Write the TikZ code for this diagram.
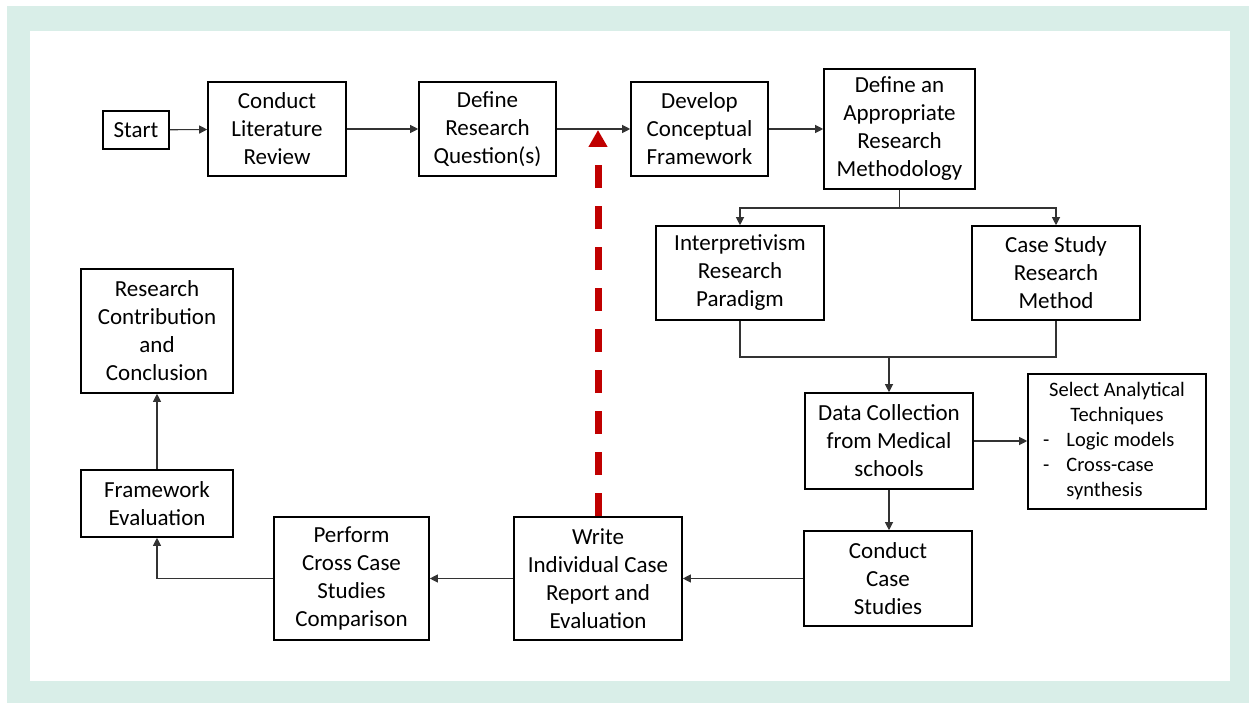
\documentclass[tikz,border=0pt]{standalone}
\usepackage{fontspec}
\setmainfont{Carlito}
\usetikzlibrary{arrows.meta}
\definecolor{mintframe}{HTML}{D9EEE8}
\definecolor{flowred}{HTML}{C00000}
\begin{document}
\begin{tikzpicture}[x=1pt,y=-1pt,
  stepbox/.style={draw=black,line width=1.6pt,align=center,inner sep=0pt,
    font=\fontsize{23}{28}\selectfont},
  notebox/.style={draw=black,line width=1.6pt,inner sep=0pt,
    font=\fontsize{20.5}{25}\selectfont},
  link/.style={draw=black!80,line width=1.1pt,-{Triangle[length=8pt,width=8pt]}},
  plain/.style={draw=black!80,line width=1.1pt},
  feedback/.style={draw=flowred,line width=7pt,dash pattern=on 23pt off 18pt,
    -{Triangle[length=17pt,width=18pt]}}]
% frame
\useasboundingbox (0,0) rectangle (1249,703);
\fill[white] (0,0) rectangle (1249,703);
\fill[mintframe] (7,6) rectangle (1249,703);
\fill[white] (30,31) rectangle (1230,681);

% boxes of the top row
\node[stepbox,minimum width=66,minimum height=38] (start) at (136,130) {Start};
\node[stepbox,minimum width=138,minimum height=94] (lit) at (277,129) {Conduct\\Literature\\Review};
\node[stepbox,minimum width=137,minimum height=94] (rq) at (487.5,129) {Define\\Research\\Question(s)};
\node[stepbox,minimum width=137,minimum height=94] (cf) at (699.5,129) {Develop\\Conceptual\\Framework};
\node[stepbox,minimum width=151,minimum height=120] (meth) at (899.5,129) {Define an\\Appropriate\\Research\\Methodology};

% methodology branches
\node[stepbox,minimum width=168,minimum height=94] (interp) at (740,273) {Interpretivism\\Research\\Paradigm};
\node[stepbox,minimum width=168,minimum height=94] (case) at (1056,273) {Case Study\\Research\\Method};

% data collection and analysis
\node[stepbox,minimum width=168,minimum height=96] (data) at (889,441) {Data Collection\\from Medical\\schools};
\node[notebox,minimum width=178,minimum height=135] (tech) at (1117,441.5) {%
  \begin{tabular}{@{}l@{\hspace{17pt}}l@{}}
  \multicolumn{2}{c}{Select Analytical}\\
  \multicolumn{2}{c}{Techniques}\\
  - & Logic models\\
  - & Cross-case\\
    & synthesis
  \end{tabular}};
\node[stepbox,minimum width=168,minimum height=95] (conduct) at (888,578.5) {Conduct\\Case\\Studies};
\node[stepbox,minimum width=168,minimum height=123] (report) at (598,578.5) {Write\\Individual Case\\Report and\\Evaluation};
\node[stepbox,minimum width=155,minimum height=123] (cross) at (351.5,578.5) {Perform\\Cross Case\\Studies\\Comparison};
\node[stepbox,minimum width=152,minimum height=67] (feval) at (157,503.5) {Framework\\Evaluation};
\node[stepbox,minimum width=152,minimum height=124] (concl) at (157,331) {Research\\Contribution\\and\\Conclusion};

% junction points
\coordinate (split) at (899.5,208);
\coordinate (merge) at (889,357);
\coordinate (fb) at (598,130);

% connectors of the top row
\draw[link] (start) -- (lit);
\draw[link] (lit) -- (rq);
\draw[link] (rq) -- (cf);
\draw[link] (cf.east) -- (meth.west |- cf.east);

% methodology splits into paradigm and method
\draw[plain] (meth.south) -- (split);
\draw[link] (split) -| (interp.north);
\draw[link] (split) -| (case.north);

% paradigm and method merge into data collection
\draw[plain] (interp.south) |- (merge);
\draw[plain] (case.south) |- (merge);
\draw[link] (merge) -- (data.north);

\draw[link] (data.east) -- (tech.west |- data.east);
\draw[link] (data.south) -- (data.south |- conduct.north);
\draw[link] (conduct.west) -- (report.east |- conduct.west);
\draw[link] (report.west) -- (cross.east |- report.west);
\draw[link] (cross.west) -| (feval.south);
\draw[link] (feval.north) -- (concl.south);

% feedback from the case report back to the research questions
\draw[feedback] (report.north) -- (fb);
\end{tikzpicture}
\end{document}
